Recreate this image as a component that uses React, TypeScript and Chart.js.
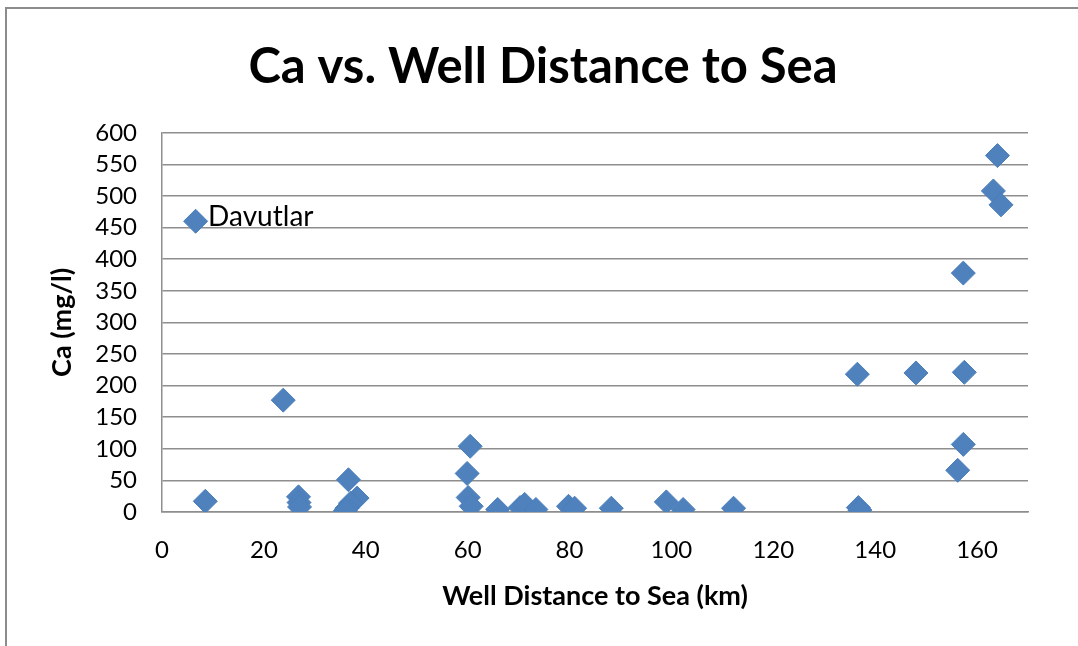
import React, { useEffect, useRef } from 'react';
import { Chart, registerables } from 'chart.js';

Chart.register(...registerables);

const chartTitle = 'Ca vs. Well Distance to Sea';
const xAxisTitle = 'Well Distance to Sea (km)';
const yAxisTitle = 'Ca (mg/l)';

const distanceKm = [
  6.6, 8.5, 23.8, 26.8, 26.9, 27.0, 36.6, 38.3, 37.0, 36.3, 36.0, 60.5, 59.9, 60.1, 60.7, 65.9, 70.3, 71.2,
  73.4, 79.8, 81.0, 88.2, 99.0, 102.3, 112.2, 136.7, 137.0, 136.5, 148.0, 157.5, 157.3, 156.2, 157.3, 163.2,
  164.0, 164.7,
];
const caMgL = [
  460, 17, 177, 24, 15, 8, 51, 22, 14, 6, 2, 104, 61, 23, 9, 4, 7, 12, 4, 9, 6, 6, 16, 4, 6, 7, 3, 218, 220,
  221, 107, 66, 378, 508, 564, 486,
];
const xTicks = [0, 20, 40, 60, 80, 100, 120, 140, 160];
const yTicks = [0, 50, 100, 150, 200, 250, 300, 350, 400, 450, 500, 550, 600];
const pointNames = [{ index: 0, text: 'Davutlar' }];

const FONT = 'Lato, "Open Sans", sans-serif';
const GRID = '#8e8e8e';
const LEFT_PAD = 58;

export default function App() {
  const ref = useRef<HTMLCanvasElement>(null);

  useEffect(() => {
    const canvas = ref.current;
    if (!canvas) return;

    const framePlugin = {
      id: 'frame',
      beforeDraw(chart: any) {
        const ctx = chart.ctx;
        ctx.save();
        ctx.strokeStyle = '#8c8c8c';
        ctx.lineWidth = 2;
        ctx.beginPath();
        ctx.moveTo(1078, 8);
        ctx.lineTo(6, 8);
        ctx.lineTo(6, 646);
        ctx.stroke();
        ctx.restore();
      },
    };

    const labelPlugin = {
      id: 'pointNames',
      afterDatasetsDraw(chart: any) {
        const ctx = chart.ctx;
        const meta = chart.getDatasetMeta(0);
        ctx.save();
        ctx.font = `28px ${FONT}`;
        ctx.fillStyle = '#000';
        ctx.textAlign = 'left';
        ctx.textBaseline = 'alphabetic';
        pointNames.forEach((p) => {
          const el = meta.data[p.index];
          if (el) ctx.fillText(p.text, el.x + 12.5, el.y + 5);
        });
        ctx.restore();
      },
    };

    const chart = new Chart(canvas, {
      type: 'scatter',
      data: {
        datasets: [
          {
            data: distanceKm.map((x, i) => ({ x, y: caMgL[i] })),
            pointStyle: 'rectRot',
            pointRadius: 12,
            pointHoverRadius: 12,
            backgroundColor: '#4F81BD',
            borderColor: '#4A7EBB',
            borderWidth: 1,
          },
        ],
      },
      options: {
        animation: false,
        responsive: false,
        devicePixelRatio: 1,
        events: [],
        layout: { padding: { left: LEFT_PAD, right: 50, top: 0, bottom: 0 } },
        plugins: {
          legend: { display: false },
          tooltip: { enabled: false },
          title: {
            display: true,
            text: chartTitle,
            color: '#000',
            font: { family: FONT, size: 49, weight: 'bold' },
            padding: { top: 38, bottom: 36 },
          },
        },
        scales: {
          x: {
            type: 'linear',
            position: 'bottom',
            min: 0,
            max: 170,
            afterBuildTicks: (s: any) => {
              s.ticks = xTicks.map((v) => ({ value: v }));
            },
            afterFit: (s: any) => {
              s.height = 134;
            },
            grid: { display: false, drawTicks: false },
            border: { display: true, color: GRID, width: 1.5 },
            ticks: {
              color: '#000',
              font: { family: FONT, size: 24 },
              padding: 24,
              maxRotation: 0,
              autoSkip: false,
            },
            title: {
              display: true,
              text: xAxisTitle,
              color: '#000',
              font: { family: FONT, size: 27, weight: 'bold' },
              padding: { top: 0, bottom: 34 },
            },
          },
          y: {
            type: 'linear',
            position: 'left',
            min: 0,
            max: 600,
            afterBuildTicks: (s: any) => {
              s.ticks = yTicks.map((v) => ({ value: v }));
            },
            afterFit: (s: any) => {
              s.width = 162 - LEFT_PAD;
            },
            grid: { color: GRID, lineWidth: 1.5, drawTicks: false },
            border: { display: true, color: GRID, width: 1.5 },
            ticks: {
              color: '#000',
              font: { family: FONT, size: 24 },
              padding: 25,
              autoSkip: false,
            },
            title: {
              display: true,
              text: yAxisTitle,
              color: '#000',
              font: { family: FONT, size: 27, weight: 'bold' },
              padding: { top: 62 - LEFT_PAD - 16.2, bottom: 0 },
            },
          },
        },
      },
      plugins: [framePlugin, labelPlugin],
    } as any);

    return () => chart.destroy();
  }, []);

  return (
    <div style={{ position: 'fixed', left: 0, top: 0, width: 1078, height: 646, background: '#fff' }}>
      <canvas ref={ref} width={1078} height={646} style={{ display: 'block' }} />
    </div>
  );
}
